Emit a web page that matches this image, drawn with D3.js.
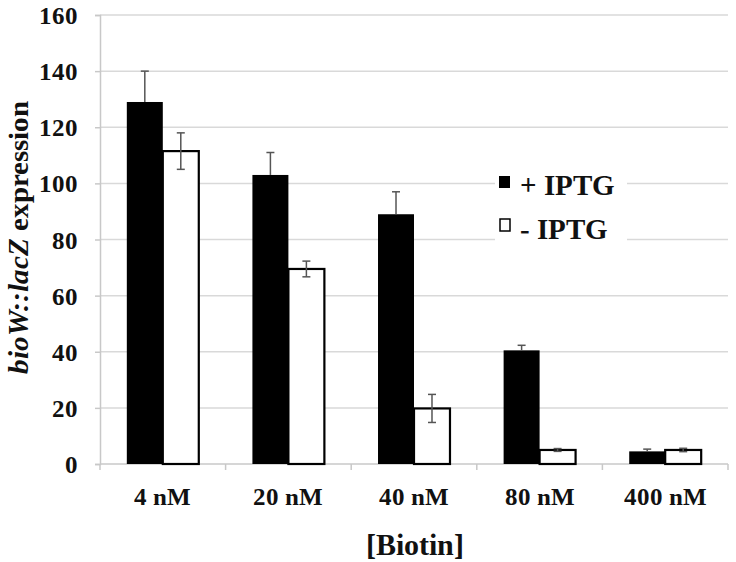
<!DOCTYPE html>
<html><head><meta charset="utf-8">
<script src="https://cdn.jsdelivr.net/npm/d3@7"></script>
<style>
@font-face{font-family:"ChartSerif";src:local("Liberation Serif Bold"),local("LiberationSerif-Bold"),local("Liberation Serif");font-weight:700;font-style:normal;}
@font-face{font-family:"ChartSerif";src:local("Liberation Serif Bold Italic"),local("LiberationSerif-BoldItalic");font-weight:700;font-style:italic;}
</style>
</head><body style="margin:0">
<script>
const categories = ["4 nM","20 nM","40 nM","80 nM","400 nM"];
const seriesNames = ["+ IPTG","- IPTG"];
const plusIPTG = [129, 103, 89, 40.5, 4.5];
const plusErr = [11, 8, 8, 1.8, 0.8];
const minusIPTG = [111.5, 69.5, 19.8, 5, 5];
const minusErr = [6.5, 2.8, 5, 0.5, 0.6];
const yTicks = [0,20,40,60,80,100,120,140,160];

const W=736,H=562;
const FONT="ChartSerif, 'Liberation Serif', serif";
const svg=d3.select("body").append("svg").attr("width",W).attr("height",H).style("display","block").style("font-family",FONT);
const x=d3.scaleBand().domain(categories).range([100,728]).paddingInner(0.427).paddingOuter(0.2135);
const y=d3.scaleLinear().domain([0,160]).range([464,15]);
const sub=d3.scaleBand().domain(seriesNames).range([0,x.bandwidth()]);

// gridlines
svg.append("g").selectAll("line").data(yTicks.slice(1)).join("line")
 .attr("x1",100).attr("x2",728).attr("y1",d=>y(d)).attr("y2",d=>y(d))
 .attr("stroke","#d9d9d9").attr("stroke-width",1.5);

// y axis
const ya=svg.append("g").attr("transform","translate(100,0)")
 .call(d3.axisLeft(y).tickValues(yTicks).tickSize(5).tickPadding(17));
ya.attr("font-family",null).attr("font-size",25);
ya.select(".domain").attr("stroke","#c8c8c8").attr("stroke-width",1.5);
ya.selectAll(".tick line").attr("stroke","#c8c8c8").attr("stroke-width",1.5);
ya.selectAll("text").style("font-family",FONT).attr("font-weight","bold").attr("font-size",25).attr("fill","#111").attr("dy","0.34em");

// x axis
const boundaries=[100].concat(categories.map((c,i)=>100+(i+1)*(628/categories.length)));
const xa=svg.append("g").attr("transform","translate(0,464)");
xa.append("line").attr("x1",100).attr("x2",728).attr("stroke","#c8c8c8").attr("stroke-width",1.5);
xa.selectAll(".tk").data(boundaries).join("line").attr("class","tk")
 .attr("x1",d=>d).attr("x2",d=>d).attr("y1",0).attr("y2",6).attr("stroke","#c8c8c8").attr("stroke-width",1.5);
xa.selectAll("text").data(categories).join("text")
 .attr("x",d=>x(d)+x.bandwidth()/2).attr("y",41).attr("text-anchor","middle")
 .style("font-family",FONT).attr("font-weight","bold").attr("font-size",25).attr("fill","#111").text(d=>d);

// legend background (interrupts gridlines)
svg.append("rect").attr("x",495).attr("y",165).attr("width",132).attr("height",85).attr("fill","#fff");

// bars
const g=svg.append("g");
const rows=categories.map((c,i)=>({c,vals:[{s:seriesNames[0],v:plusIPTG[i],e:plusErr[i]},{s:seriesNames[1],v:minusIPTG[i],e:minusErr[i]}]}));
rows.forEach(r=>{
  r.vals.forEach(d=>{
    const bx=x(r.c)+sub(d.s);
    if(d.s===seriesNames[0]){
      g.append("rect").attr("x",bx).attr("y",y(d.v)).attr("width",sub.bandwidth()).attr("height",y(0)-y(d.v)).attr("fill","#000");
    } else {
      g.append("rect").attr("x",bx).attr("y",y(d.v)).attr("width",sub.bandwidth()).attr("height",y(0)-y(d.v))
       .attr("fill","#fff").attr("stroke","#000").attr("stroke-width",2.2);
    }
  });
});
// error bars
rows.forEach(r=>{
  r.vals.forEach((d,k)=>{
    const cx=x(r.c)+sub(d.s)+sub.bandwidth()/2;
    const eg=g.append("g").attr("stroke","#555").attr("stroke-width",1.5);
    const lo = k===0 ? d.v : d.v-d.e;
    eg.append("line").attr("x1",cx).attr("x2",cx).attr("y1",y(d.v+d.e)).attr("y2",y(lo));
    eg.append("line").attr("x1",cx-4).attr("x2",cx+4).attr("y1",y(d.v+d.e)).attr("y2",y(d.v+d.e));
    if(k===1) eg.append("line").attr("x1",cx-4).attr("x2",cx+4).attr("y1",y(d.v-d.e)).attr("y2",y(d.v-d.e));
  });
});

// legend
const leg=svg.append("g");
leg.append("rect").attr("x",499).attr("y",176).attr("width",11).attr("height",12).attr("fill","#000");
leg.append("rect").attr("x",500).attr("y",219).attr("width",10).attr("height",12).attr("fill","#fff").attr("stroke","#000").attr("stroke-width",1.5);
leg.append("text").attr("x",520).attr("y",195).style("font-family",FONT).attr("font-weight","bold").attr("font-size",29).attr("fill","#111").text(seriesNames[0]);
leg.append("text").attr("x",520).attr("y",239).style("font-family",FONT).attr("font-weight","bold").attr("font-size",29).attr("fill","#111").text(seriesNames[1]);

// axis titles
svg.append("text").attr("x",415).attr("y",555).attr("text-anchor","middle")
 .style("font-family",FONT).attr("font-weight","bold").attr("font-size",30).attr("fill","#111").text("[Biotin]");
const yl=svg.append("text").attr("transform","translate(28,237) rotate(-90)").attr("text-anchor","middle")
 .style("font-family",FONT).attr("font-weight","bold").attr("font-size",29).attr("fill","#111");
yl.append("tspan").attr("font-style","italic").text("bioW::lacZ");
yl.append("tspan").text(" expression");
</script>
</body></html>
